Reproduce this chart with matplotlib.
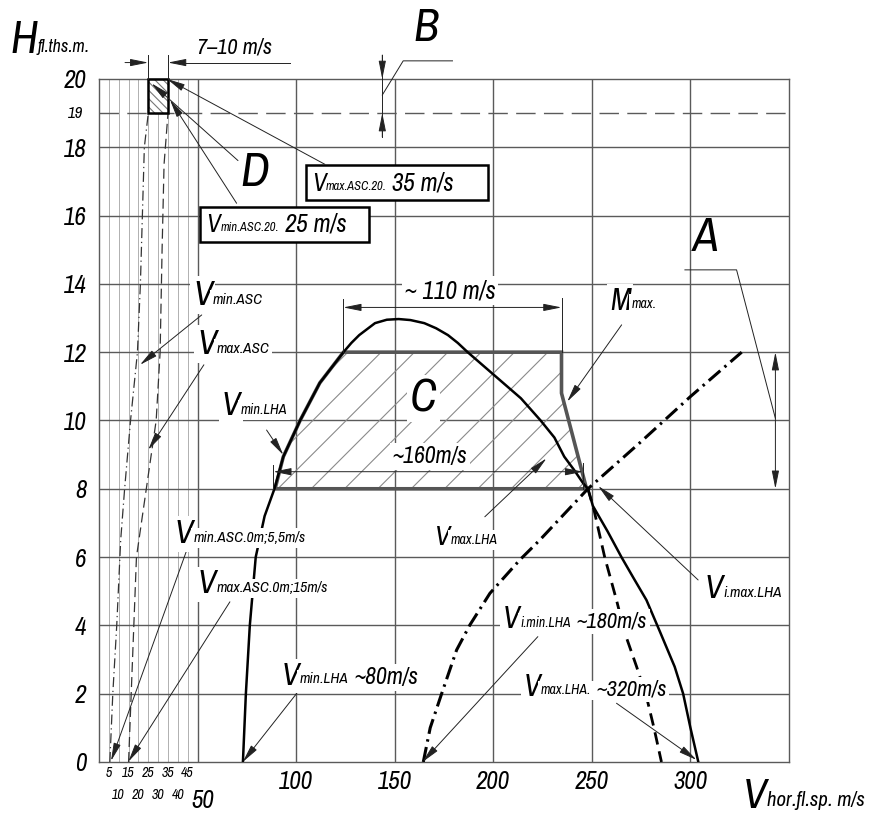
import matplotlib
matplotlib.use("Agg")
import matplotlib.pyplot as plt
from matplotlib import font_manager
from matplotlib.patches import Polygon, Rectangle


def pick_font():
    # narrow / condensed italic face if one is installed, else an Arial-width face
    fl = font_manager.fontManager.ttflist
    for f in fl:
        if "Narrow" in f.name or "Condensed" in f.name:
            return f.name, "normal"
    for f in fl:
        if f.stretch in ("condensed", "semi-condensed") and f.style == "italic":
            return f.name, f.stretch
    return "Liberation Sans", "normal"


FONT, STRETCH = pick_font()
plt.rcParams["font.family"] = [FONT, "DejaVu Sans"]
plt.rcParams["font.stretch"] = STRETCH
plt.rcParams["font.style"] = "italic"
plt.rcParams["hatch.linewidth"] = 0.8

# ---- data (speed m/s, height thousand m) ----
x_major = [50, 100, 150, 200, 250, 300]
x_minor = [5, 10, 15, 20, 25, 30, 35, 40, 45]
y_grid = [2, 4, 6, 8, 10, 12, 14, 16, 18]
y_ticks = [0, 2, 4, 6, 8, 10, 12, 14, 16, 18, 20]
x_ticks = [100, 150, 200, 250, 300]
x_small_odd = [5, 15, 25, 35, 45]
x_small_even = [10, 20, 30, 40]

# envelope of level flight speeds (V min.LHA / V max.LHA)
dome_v = [73, 74.5, 76.5, 79.5, 84, 89, 93.5, 102, 112, 124, 128, 132, 140, 146, 152, 158,
          165, 171, 177, 182, 187, 196, 203, 214, 224, 231, 236, 241, 245.6, 248, 250.5,
          258, 265, 271, 277.7, 284.5, 292, 296.3, 300, 304]
dome_h = [0, 2, 4, 6, 7.2, 8, 8.94, 10, 11.1, 12, 12.27, 12.5, 12.85, 12.95, 12.97, 12.94,
          12.85, 12.7, 12.5, 12.27, 12, 11.55, 11.2, 10.65, 10, 9.5, 8.94, 8.55, 8.16, 8, 7.5,
          6.75, 6, 5.4, 4.74, 3.82, 2.79, 2.0, 1.0, 0]
# indicated min speed (dash-dot)
imin_v = [164.5, 168, 173.8, 181.4, 188.1, 198.3, 213.5, 223.6, 248, 274, 300, 326]
imin_h = [0, 1, 2, 3.28, 4.01, 4.94, 5.92, 6.5, 8, 9.33, 10.7, 12]
# indicated max speed (dashed)
imax_v = [248, 251, 256.5, 262.5, 266.7, 272.7, 277.7, 281.5, 285.3]
imax_h = [8, 7.4, 6, 4.74, 3.78, 2.79, 1.91, 1.0, 0]
# climb speeds
asc_min_v = [5.5, 7, 9, 11, 13, 16, 19.5, 21, 22, 23, 25]
asc_min_h = [0, 2, 4, 6.5, 8, 10, 12, 14, 16, 18, 19]
asc_max_v = [15, 17, 19, 24, 29, 31, 32, 33, 35]
asc_max_h = [0, 3, 6, 8, 10, 12, 15, 17.5, 19]
# zone C
zone_v = [89.3, 93.5, 102, 112, 124, 234.6, 234.6, 247.3]
zone_h = [8, 8.94, 10, 11.1, 12, 12, 10.8, 8]
# ceiling block
ceil_v = [25, 35]
ceil_h = [19, 20]

fig = plt.figure(figsize=(8.8, 8.14), dpi=100)
ax = fig.add_axes([0.1125, 0.0639, 0.7841, 0.8391])
ax.set_xlim(0, 350)
ax.set_ylim(0, 20)

GRID = "#5a5a5a"
ax.vlines(x_minor, 0, 20, color="#b0b0b0", lw=0.7, zorder=1)
ax.vlines(x_major, 0, 20, color=GRID, lw=1.0, zorder=1)
ax.hlines(y_grid, 0, 350, color=GRID, lw=1.0, zorder=1)
ax.axhline(19, color=GRID, lw=1.0, dashes=(14, 6), zorder=1)
for s in ax.spines.values():
    s.set_color(GRID)
    s.set_linewidth(1.0)

ax.set_yticks(y_ticks)
ax.set_yticklabels([str(v) for v in y_ticks], fontsize=18)
ax.set_xticks(x_ticks)
ax.set_xticklabels([str(v) for v in x_ticks], fontsize=18)
ax.tick_params(axis="y", length=0, pad=9)
ax.tick_params(axis="x", length=0, pad=6)
ax.text(-8, 19, "19", fontsize=12, ha="right", va="center")
for v in x_small_odd:
    ax.text(v, -0.33, str(v), fontsize=10, ha="center", va="center", clip_on=False)
for v in x_small_even:
    ax.text(v, -0.96, str(v), fontsize=10, ha="center", va="center", clip_on=False)
ax.text(52.5, -1.13, "50", fontsize=18, ha="center", va="center", clip_on=False)

# zone C
ax.add_patch(Polygon(list(zip(zone_v, zone_h)), closed=True, fc="none", ec="#8a8a8a",
                     lw=0, hatch="/", zorder=2))
ax.add_patch(Polygon(list(zip(zone_v, zone_h)), closed=True, fc="none", ec="#555555",
                     lw=2.6, zorder=3))

# curves
ax.plot(dome_v, dome_h, color="black", lw=1.8, zorder=3)
ax.plot(imin_v, imin_h, color="black", lw=2.2, dashes=(5, 1.8, 0.8, 1.8), zorder=3)
ax.plot(imax_v, imax_h, color="black", lw=2.0, dashes=(4.5, 2.5), zorder=3)
ax.plot(asc_min_v, asc_min_h, color="#333333", lw=0.9, dashes=(8, 3, 1, 3), zorder=3)
ax.plot(asc_max_v, asc_max_h, color="#333333", lw=0.9, dashes=(8, 4), zorder=3)

# ceiling block
ceil_xy = (ceil_v[0], ceil_h[0])
ax.add_patch(Rectangle(ceil_xy, ceil_v[1] - ceil_v[0], ceil_h[1] - ceil_h[0], fc="white",
                       ec="#777777", lw=0, hatch="\\\\\\\\", zorder=3))
ax.add_patch(Rectangle(ceil_xy, ceil_v[1] - ceil_v[0], ceil_h[1] - ceil_h[0], fc="none",
                       ec="black", lw=1.8, zorder=4, clip_on=False))

WB = dict(fc="white", ec="none", pad=2)
ARW = "-|>,head_length=1.1,head_width=0.22"
DIM = "<|-|>,head_length=1.1,head_width=0.22"


def leader(tip, start):
    ax.annotate("", xy=tip, xytext=start, annotation_clip=False,
                arrowprops=dict(arrowstyle=ARW, color="#222222", lw=0.7, mutation_scale=10,
                                shrinkA=0, shrinkB=0), zorder=7)


def label(x, y, big, sub, rest="", sb=24, ss=11, sr=17, box=True):
    bb = WB if box else None
    t = ax.text(x, y, big, fontsize=sb, va="baseline", ha="left", zorder=8, bbox=bb,
                clip_on=False)
    t2 = ax.annotate(sub, xy=(1, 0), xycoords=t, xytext=(0.5, 0.22 * (sb - ss)),
                     textcoords="offset points", fontsize=ss, va="bottom", ha="left",
                     zorder=8, bbox=bb, annotation_clip=False)
    if rest:
        ax.annotate(rest, xy=(1, 0), xycoords=t2, xytext=(4, 0.22 * (ss - sr)),
                    textcoords="offset points", fontsize=sr, va="bottom", ha="left",
                    zorder=8, bbox=bb, annotation_clip=False)


# labels with leaders
label(47.7, 13.38, "V", "min.ASC", sb=25, ss=11)
leader((20.8, 11.63), (52.1, 13.09))
label(49.7, 11.95, "V", "max.ASC", sb=25, ss=11)
leader((25.0, 9.14), (53.2, 11.63))
label(62.4, 10.16, "V", "min.LHA", sb=24, ss=10.5)
leader((93.5, 8.99), (85.0, 9.72))
label(38.5, 6.41, "V", "min.ASC.0m;5,5m/s", sb=24, ss=11)
leader((6.1, 0.03), (44.5, 6.2))
label(50.2, 4.94, "V", "max.ASC.0m;15m/s", sb=24, ss=11)
leader((14.9, 0.01), (66.4, 4.69))
label(92.6, 2.25, "V", "min.LHA", "~80m/s", sb=23, ss=11, sr=17)
leader((72.9, 0.0), (100.3, 2.01))
label(205.0, 3.91, "V", "i.min.LHA", "~180m/s", sb=22, ss=10, sr=16)
leader((164.1, 0.0), (222.6, 3.67))
label(215.2, 1.93, "V", "max.LHA.", "~320m/s", sb=22, ss=10, sr=16)
leader((303.1, 0.06), (262.5, 1.72))
label(307.3, 4.79, "V", "i.max.LHA", sb=24, ss=11)
leader((253.2, 8.08), (303.9, 5.33))
label(170.4, 6.35, "V", "max.LHA", sb=20, ss=10)
leader((227.0, 8.89), (195.7, 7.18))
label(259.1, 13.24, "M", "max.", sb=22, ss=10)
leader((237.5, 10.55), (265.1, 12.8))

# framed ceiling notes
box_max = (104.8, 16.46, 92.6, 1.02)
box_min = (51.2, 15.23, 85.7, 1.02)
for b in (box_max, box_min):
    ax.add_patch(Rectangle((b[0], b[1]), b[2], b[3], fc="white", ec="black", lw=1.8, zorder=7))
label(107.9, 16.72, "V", "max.ASC.20.", "35 m/s", sb=18, ss=9, sr=18, box=False)
label(54.6, 15.52, "V", "min.ASC.20.", "25 m/s", sb=18, ss=9, sr=18, box=False)
leader((34.5, 20.0), (114.6, 17.5))
leader((36.0, 19.39), (69.8, 16.36))
leader((26.7, 19.87), (70.5, 17.61))

# big letters
ax.text(307.8, 15.36, "A", fontsize=34, ha="center", va="center")
ax.text(165.7, 21.48, "B", fontsize=33, ha="center", va="center", clip_on=False)
ax.text(164.5, 10.65, "C", fontsize=33, ha="center", va="center", zorder=8, bbox=WB)
ax.text(79.1, 17.26, "D", fontsize=35, ha="center", va="center", zorder=8)

LK = dict(color="#222222", lw=0.7, zorder=6, clip_on=False)


def dim(p1, p2, style=DIM):
    ax.annotate("", xy=p2, xytext=p1, annotation_clip=False,
                arrowprops=dict(arrowstyle=style, color="#222222", lw=0.7, mutation_scale=10,
                                shrinkA=0, shrinkB=0), zorder=7)


# ~110 m/s
ax.plot([123.9, 123.9], [12, 13.55], **LK)
ax.plot([234.6, 234.6], [12, 13.6], **LK)
dim((123.9, 13.31), (234.6, 13.31))
ax.text(178.2, 13.8, "~ 110 m/s", fontsize=18, ha="center", va="center", zorder=8, bbox=WB)
# ~160 m/s
ax.plot([88.4, 88.4], [8, 8.7], **LK)
ax.plot([245.6, 245.6], [8, 8.75], **LK)
dim((88.4, 8.5), (245.6, 8.5))
ax.text(167.8, 8.94, "~160m/s", fontsize=17, ha="center", va="center", zorder=8, bbox=WB)
# A
dim((343.1, 8), (343.1, 12))
leader_a_v = [343.1, 323.4, 297.2]
leader_a_h = [10.06, 14.41, 14.41]
ax.plot(leader_a_v, leader_a_h, **LK)
# B
ax.plot([143.7, 143.7], [18.3, 20.7], **LK)
dim((143.7, 20.7), (143.7, 20.0), ARW)
dim((143.7, 18.3), (143.7, 19.0), ARW)
leader_b_v = [143.7, 154.3, 179.3]
leader_b_h = [19.53, 20.53, 20.53]
ax.plot(leader_b_v, leader_b_h, **LK)
# 7-10 m/s
ax.plot([25, 25], [20, 20.7], **LK)
ax.plot([35, 35], [20, 20.7], **LK)
dim((13.2, 20.48), (25, 20.48), ARW)
dim((43.6, 20.48), (35, 20.48), ARW)
ax.plot([43.6, 96.9], [20.48, 20.48], **LK)
ax.text(49.7, 20.76, "7\u201310 m/s", fontsize=16, ha="left", va="baseline", clip_on=False)

# axis titles
label(-45.1, 20.76, "H", "fl.ths.m.", sb=33, ss=13, box=False)
label(326.6, -1.35, "V", "hor.fl.sp. m/s", sb=31, ss=15, box=False)

fig.savefig("out.png", dpi=100)
